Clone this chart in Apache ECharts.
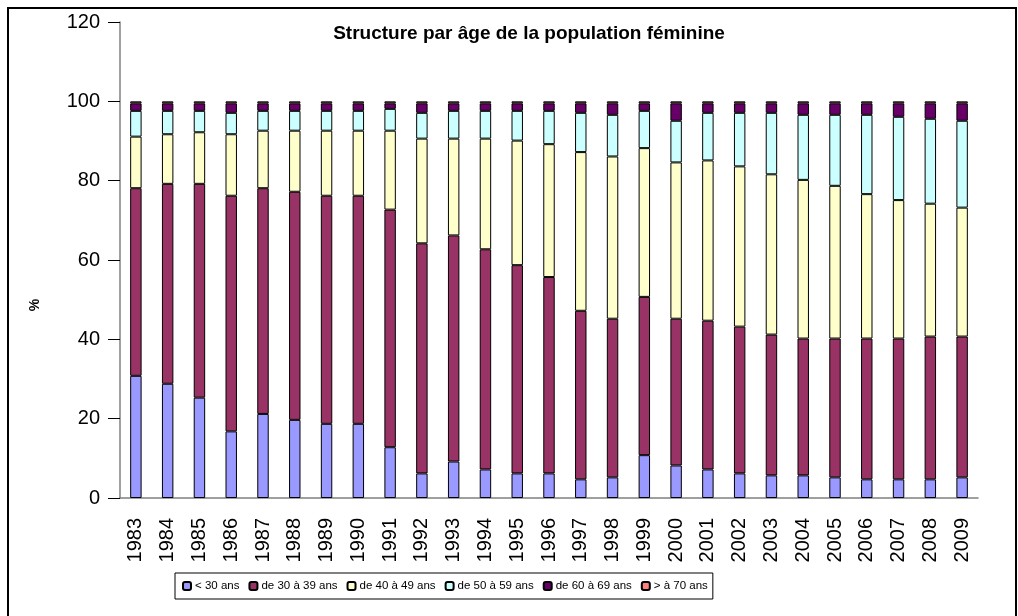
<!DOCTYPE html>
<html>
<head>
<meta charset="utf-8">
<script src="https://cdn.jsdelivr.net/npm/echarts@6/dist/echarts.min.js"></script>
<style>
    html, body { margin: 0; padding: 0; background: #fff; }
    #chart { width: 1018px; height: 616px; }
</style>
</head>
<body>
<div id="chart"></div>
<script>
// années
var years = ['1983', '1984', '1985', '1986', '1987', '1988', '1989', '1990', '1991', '1992',
    '1993', '1994', '1995', '1996', '1997', '1998', '1999', '2000', '2001', '2002',
    '2003', '2004', '2005', '2006', '2007', '2008', '2009'];

// parts en % par tranche d'âge
var moins30 = [30.8, 28.8, 25.3, 16.8, 21.2, 19.7, 18.7, 18.7, 12.8, 6.2,
    9.2, 7.2, 6.2, 6.2, 4.7, 5.2, 10.8, 8.2, 7.2, 6.2,
    5.7, 5.7, 5.2, 4.7, 4.7, 4.7, 5.2];
var de30a39 = [47.3, 50.4, 53.9, 59.4, 56.9, 57.5, 57.5, 57.5, 59.9, 58.0,
    57.0, 55.5, 52.5, 49.5, 42.5, 40.0, 39.9, 37.0, 37.5, 37.0,
    35.5, 34.5, 35.0, 35.5, 35.5, 36.0, 35.5];
var de40a49 = [13.0, 12.5, 13.0, 15.5, 14.5, 15.4, 16.4, 16.4, 19.9, 26.4,
    24.4, 27.9, 31.4, 33.5, 40.0, 40.9, 37.5, 39.4, 40.4, 40.4,
    40.4, 40.0, 38.5, 36.4, 34.9, 33.5, 32.5];
var de50a59 = [6.5, 5.9, 5.4, 5.4, 5.0, 5.0, 5.0, 5.0, 5.5, 6.5,
    7.0, 7.0, 7.5, 8.4, 9.9, 10.5, 9.4, 10.5, 12.0, 13.5,
    15.5, 16.4, 17.9, 20.0, 21.0, 21.4, 21.9];
var de60a69 = [1.9, 1.9, 1.9, 2.4, 1.9, 1.9, 1.9, 1.9, 1.4, 2.4,
    1.9, 1.9, 1.9, 1.9, 2.4, 2.9, 1.9, 4.4, 2.4, 2.4,
    2.4, 2.9, 2.9, 2.9, 3.4, 3.9, 4.4];
var plus70 = [0.5, 0.5, 0.5, 0.5, 0.5, 0.5, 0.5, 0.5, 0.5, 0.5,
    0.5, 0.5, 0.5, 0.5, 0.5, 0.5, 0.5, 0.5, 0.5, 0.5,
    0.5, 0.5, 0.5, 0.5, 0.5, 0.5, 0.5];

var names = ['< 30 ans', 'de 30 à 39 ans', 'de 40 à 49 ans', 'de 50 à 59 ans', 'de 60 à 69 ans', '> à 70 ans'];
var colors = ['#9999ff', '#993366', '#ffffcc', '#ccffff', '#660066', '#ff8080'];
var values = [moins30, de30a39, de40a49, de50a59, de60a69, plus70];

var series = [];
for (var i = 0; i < names.length; i++) {
    series.push({
        name: names[i],
        type: 'bar',
        stack: 'total',
        barWidth: '36%',
        data: values[i],
        itemStyle: {
            color: colors[i],
            borderColor: '#000',
            borderWidth: 1
        },
        emphasis: { disabled: true }
    });
}

var chart = echarts.init(document.getElementById('chart'));
chart.setOption({
    animation: false,
    textStyle: { fontFamily: '"Liberation Sans", Arial, sans-serif' },
    title: {
        text: 'Structure par âge de la population féminine',
        left: 524,
        textAlign: 'center',
        top: 19,
        textStyle: { fontSize: 19, fontWeight: 'bold', color: '#000' }
    },
    graphic: [{
        type: 'rect',
        shape: { x: 8, y: 8, width: 1008, height: 620 },
        style: { fill: null, stroke: '#000', lineWidth: 2 },
        silent: true
    }, {
        type: 'text',
        x: 35,
        y: 305,
        rotation: Math.PI / 2,
        style: {
            text: '%',
            fontSize: 14,
            fontWeight: 'bold',
            fill: '#000',
            align: 'center',
            verticalAlign: 'middle',
            fontFamily: '"Liberation Sans", Arial, sans-serif'
        },
        silent: true
    }],
    legend: {
        left: 175,
        top: 573,
        itemWidth: 8,
        itemHeight: 8,
        itemGap: 9,
        padding: [7, 5, 7, 7],
        borderColor: '#000',
        borderWidth: 1,
        textStyle: { fontSize: 11.5, color: '#000', padding: [0, 0, 0, -1] },
        data: names
    },
    grid: { left: 120, right: 40, top: 22, bottom: 118 },
    xAxis: {
        type: 'category',
        data: years,
        axisLine: { lineStyle: { color: '#808080', width: 1.5 } },
        axisTick: { alignWithLabel: true, length: 8, lineStyle: { color: '#000' } },
        axisLabel: { rotate: 90, fontSize: 20, color: '#000', margin: 20 }
    },
    yAxis: {
        type: 'value',
        min: 0,
        max: 120,
        interval: 20,
        axisLine: { show: true, lineStyle: { color: '#808080', width: 1.5 } },
        axisTick: { show: true, length: 12, lineStyle: { color: '#000' } },
        axisLabel: { fontSize: 20, color: '#000', margin: 20 },
        splitLine: { show: false }
    },
    series: series
});
</script>
</body>
</html>
